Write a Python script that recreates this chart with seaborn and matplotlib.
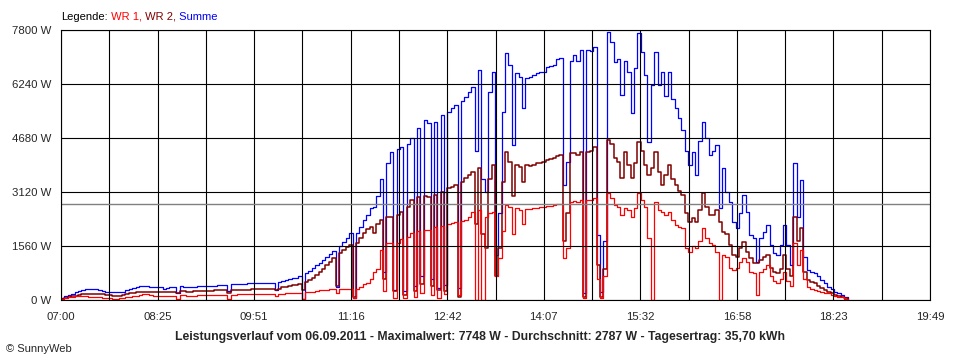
import numpy as np
import matplotlib
matplotlib.use("Agg")
import matplotlib.pyplot as plt
import seaborn as sns

# Messwerte im 3-Minuten-Raster ab 07:00 (Watt)
summe = [
    50, 110, 150, 170, 235, 270, 290, 305, 310, 310,
    305, 289, 270, 240, 230, 225, 222, 225, 240, 290,
    320, 340, 366, 400, 413, 410, 380, 366, 366, 366,
    309, 340, 366, 366, 192, 404, 390, 375, 380, 390,
    395, 400, 405, 410, 413, 415, 420, 430, 440, 270,
    455, 460, 465, 470, 475, 478, 481, 481, 485, 485,
    490, 495, 500, 300, 520, 549, 570, 607, 625, 645,
    690, 30, 780, 838, 930, 1011, 1080, 1150, 1250, 1330,
    1420, 380, 1570, 1680, 1800, 1935, 50, 1950, 2100, 2300,
    2450, 2650, 2700, 3000, 3500, 800, 3950, 4285, 300, 4350,
    4430, 250, 4500, 4670, 400, 4960, 700, 5200, 5100, 600,
    5150, 350, 5345, 433, 5441, 5550, 5634, 350, 5750, 5875,
    6000, 6163, 4300, 6644, 3500, 3120, 6018, 6596, 1300, 2500,
    5441, 7126, 6789, 4478, 6548, 6450, 5537, 6404, 6450, 6500,
    6550, 6580, 6600, 6740, 6760, 6789, 6950, 6981, 3322, 4000,
    6900, 7078, 6900, 7222, 200, 7222, 7180, 7318, 1878, 230,
    1700, 7748, 7463, 6885, 6950, 5922, 6900, 6596, 5400, 6700,
    7704, 7174, 6500, 4573, 6200, 7174, 6200, 6600, 5900, 6596,
    5800, 5537, 5250, 4900, 4300, 3900, 4285, 3600, 4600, 5152,
    4670, 4189, 4300, 4478, 2648, 3800, 3130, 2840, 2263, 2070,
    2500, 3033, 2552, 1878, 1782, 1107, 1800, 1974, 2167, 1600,
    1350, 1300, 1600, 2167, 1600, 1000, 3949, 2400, 3467, 1252,
    867, 820, 770, 680, 578, 480, 385, 320, 240, 190,
    144, 80, 0,
]
wr2 = [
    30, 50, 80, 110, 130, 150, 164, 175, 183, 180,
    175, 173, 160, 150, 135, 130, 125, 125, 135, 160,
    200, 212, 225, 240, 240, 235, 231, 231, 231, 231,
    231, 231, 240, 240, 200, 255, 260, 245, 245, 250,
    255, 260, 265, 270, 270, 275, 280, 283, 285, 200,
    290, 292, 295, 298, 300, 303, 305, 309, 310, 312,
    315, 318, 320, 290, 330, 366, 390, 410, 425, 440,
    460, 300, 520, 578, 626, 722, 800, 900, 1000, 1100,
    1204, 400, 1350, 1450, 1520, 1589, 100, 1650, 1800, 1950,
    2050, 2118, 1926, 2200, 2311, 600, 2407, 2407, 250, 2450,
    2550, 150, 2696, 2889, 250, 2985, 450, 3000, 2985, 400,
    3033, 300, 3130, 250, 3226, 3270, 3322, 100, 3400, 3515,
    3600, 3700, 2200, 3804, 1900, 1500, 3500, 3900, 700, 1500,
    3400, 4285, 3996, 3000, 3900, 3850, 3400, 3900, 3880, 3900,
    3950, 3970, 3996, 4040, 4060, 4092, 4150, 4189, 1700, 2500,
    4237, 4250, 4200, 4285, 100, 4285, 4300, 4430, 1000, 100,
    900, 4622, 4500, 4092, 4000, 3515, 4285, 3900, 3515, 3950,
    4573, 4300, 3900, 3611, 3800, 4285, 3700, 3322, 3600, 3900,
    3500, 3322, 3150, 3033, 2500, 2263, 2359, 2263, 2600, 3082,
    2700, 2456, 2456, 2600, 2263, 1974, 1900, 1589, 1300, 1250,
    1500, 1685, 1400, 1204, 1060, 1060, 1150, 1250, 1300, 915,
    800, 770, 900, 1300, 900, 700, 2407, 1700, 2070, 800,
    578, 530, 481, 410, 338, 290, 240, 190, 144, 120,
    96, 50, 0,
]
wr1 = [
    20, 50, 77, 95, 106, 106, 106, 106, 100, 95,
    87, 80, 70, 58, 45, 40, 38, 50, 70, 87,
    100, 115, 125, 145, 164, 160, 150, 130, 116, 116,
    116, 110, 110, 110, 30, 140, 144, 125, 125, 130,
    135, 140, 144, 144, 144, 150, 150, 150, 150, 20,
    155, 158, 160, 160, 162, 164, 164, 165, 168, 170,
    172, 175, 178, 120, 183, 185, 190, 195, 200, 205,
    210, 15, 225, 240, 245, 260, 280, 290, 300, 305,
    309, 200, 310, 315, 318, 318, 60, 330, 380, 450,
    500, 600, 800, 900, 1450, 250, 1637, 1637, 50, 1650,
    1750, 50, 1830, 1926, 100, 1980, 200, 2022, 2022, 150,
    2118, 50, 2150, 180, 2200, 2230, 2263, 150, 2290, 2311,
    2400, 2552, 0, 2600, 0, 2400, 2500, 2550, 700, 1200,
    2000, 2750, 2696, 1900, 2650, 2600, 2200, 2620, 2640, 2648,
    2660, 2680, 2700, 2720, 2730, 2744, 2760, 2780, 1200, 1500,
    2840, 2850, 2840, 2889, 50, 2889, 2900, 2937, 600, 50,
    700, 3100, 2950, 2744, 2700, 2456, 2650, 2600, 2407, 2650,
    3082, 2900, 2700, 1782, 0, 2840, 2600, 2552, 2450, 2550,
    2300, 2167, 2100, 2070, 1500, 1400, 1550, 1493, 1700, 2070,
    1800, 1637, 1600, 1396, 0, 1300, 1250, 915, 880, 915,
    1100, 1204, 1100, 800, 770, 150, 800, 900, 1011, 700,
    550, 481, 600, 800, 550, 400, 1637, 1000, 1444, 600,
    385, 330, 289, 260, 240, 200, 192, 150, 115, 100,
    87, 40, 0,
]
minuten = np.arange(len(summe)) * 3  # Minuten nach 07:00

durchschnitt = 2787
y_ticks = [0, 1560, 3120, 4680, 6240, 7800]
x_labels = ["07:00", "08:25", "09:51", "11:16", "12:42",
            "14:07", "15:32", "16:58", "18:23", "19:49"]
x_ende = 769  # 07:00 bis 19:49

ROT, DUNKELROT, BLAU = "#ff0000", "#800000", "#0000ff"

sns.set_style("white")
plt.rcParams["font.family"] = ["Liberation Sans", "DejaVu Sans"]

fig = plt.figure(figsize=(9.6, 3.6), dpi=100)
ax = fig.add_axes([61 / 960, 60 / 360, 869 / 960, 270 / 360])

for werte, farbe, lw in [(summe, BLAU, 0.9), (wr2, DUNKELROT, 1.1), (wr1, ROT, 0.9)]:
    sns.lineplot(x=minuten, y=werte, color=farbe, lw=lw, ax=ax,
                 drawstyle="steps-post", estimator=None, zorder=2)

ax.axhline(durchschnitt, color="#808080", lw=1.0, zorder=3)

ax.set_xlim(0, x_ende)
ax.set_ylim(0, 7800)
xt = np.linspace(0, x_ende, 2 * len(x_labels) - 1)
ax.set_xticks(xt)
lbl = []
for i in range(len(xt)):
    lbl.append(x_labels[i // 2] if i % 2 == 0 else "")
ax.set_xticklabels(lbl, fontsize=8.2)
ax.set_yticks(y_ticks)
ax.set_yticklabels([f"{v} W" for v in y_ticks], fontsize=8.2)
ax.tick_params(axis="both", direction="out", length=4, width=0.8, color="black", pad=3)
ax.tick_params(axis="x", pad=4.5)
ax.grid(True, color="black", lw=0.8, zorder=4)
ax.set_axisbelow(False)
for s in ax.spines.values():
    s.set_color("black")
    s.set_linewidth(0.8)
    s.set_zorder(5)
ax.set_xlabel("")
ax.set_ylabel("")

# Legende oben links, mehrfarbig
t = fig.text(61 / 960, 1 - 16.5 / 360, "Legende:", color="black", fontsize=8, va="center")
for txt, col in [(" WR 1,", ROT), (" WR 2,", DUNKELROT), (" Summe", BLAU)]:
    t = ax.annotate(txt, xy=(1, 0), xycoords=t, va="bottom", ha="left",
                    color=col, fontsize=8, annotation_clip=False)

fig.text(0.4995, 1 - 337 / 360,
         "Leistungsverlauf vom 06.09.2011 - Maximalwert: 7748 W - Durchschnitt: 2787 W - Tagesertrag: 35,70 kWh",
         ha="center", va="center", fontsize=8.8, fontweight="bold")
fig.text(6 / 960, 1 - 349 / 360, "© SunnyWeb", ha="left", va="center", fontsize=8)

fig.savefig("out.png", dpi=100, facecolor="white")
